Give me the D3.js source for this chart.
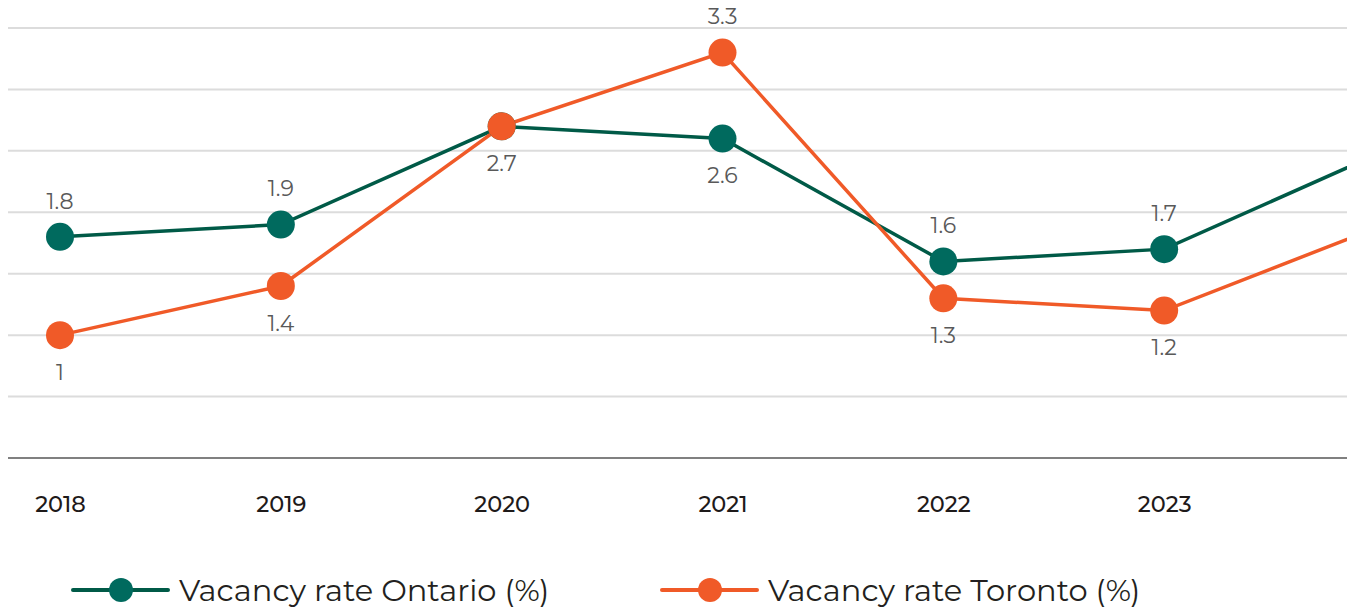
<!DOCTYPE html>
<html>
<head>
<meta charset="utf-8">
<script src="https://cdn.jsdelivr.net/npm/d3@7"></script>
<style>
  body { margin: 0; background: #fff; }
  svg { display: block; font-family: Montserrat, "Noto Sans", sans-serif; }
</style>
</head>
<body>
<svg width="1351" height="610"></svg>
<script>
// data
var years = [2018, 2019, 2020, 2021, 2022, 2023, 2024];
var ontario = [1.8, 1.9, 2.7, 2.6, 1.6, 1.7, 2.5];
var toronto = [1.0, 1.4, 2.7, 3.3, 1.3, 1.2, 1.9];
var yTicks = [0, 0.5, 1, 1.5, 2, 2.5, 3, 3.5];
var seriesNames = ["Vacancy rate Ontario (%)", "Vacancy rate Toronto (%)"];

var svg = d3.select("svg"),
  plotLeft = 8, plotRight = 1347, plotTop = 28, plotBottom = 458;

var x = d3.scaleLinear()
  .domain([2018, 2024])
  .range([60, 1385]);

var y = d3.scaleLinear()
  .domain([0, 3.5])
  .range([plotBottom, plotTop]);

var colors = ["#005a47", "#f05a28"];
var dotColors = ["#006a5e", "#f05a28"];

svg.append("defs").append("clipPath")
  .attr("id", "plot")
  .append("rect")
  .attr("x", plotLeft).attr("y", 0)
  .attr("width", plotRight - plotLeft).attr("height", plotBottom + 5);

// gridlines
svg.append("g")
  .selectAll("line")
  .data(yTicks.filter(function(d) { return d > 0; }))
  .enter().append("line")
  .attr("x1", plotLeft).attr("x2", plotRight)
  .attr("y1", function(d) { return y(d); })
  .attr("y2", function(d) { return y(d); })
  .attr("stroke", "#dcdcdc")
  .attr("stroke-width", 2);

svg.append("line")
  .attr("x1", plotLeft).attr("x2", plotRight)
  .attr("y1", y(0)).attr("y2", y(0))
  .attr("stroke", "#808080")
  .attr("stroke-width", 2);

// x axis labels
var xAxis = svg.append("g")
  .attr("transform", "translate(0," + (plotBottom + 47) + ")")
  .call(d3.axisBottom(x).tickValues(years.slice(0, 6)).tickFormat(d3.format("d")).tickSize(0));
xAxis.select(".domain").remove();
xAxis.selectAll("text")
  .attr("fill", "#1e1a1a")
  .attr("font-size", 22.5)
  .attr("font-weight", 500)
  .attr("dy", "0.32em")
  .attr("y", 0)
  .style("font-family", "Montserrat, 'Noto Sans', sans-serif");

var series = [ontario, toronto];
var line = d3.line()
  .x(function(d, i) { return x(years[i]); })
  .y(function(d) { return y(d); });

var plot = svg.append("g").attr("clip-path", "url(#plot)");

series.forEach(function(vals, s) {
  plot.append("path")
    .datum(vals)
    .attr("d", line)
    .attr("fill", "none")
    .attr("stroke", colors[s])
    .attr("stroke-width", 3.5);
});

series.forEach(function(vals, s) {
  plot.selectAll(".dot" + s)
    .data(vals)
    .enter().append("circle")
    .attr("cx", function(d, i) { return x(years[i]); })
    .attr("cy", function(d) { return y(d); })
    .attr("r", 14)
    .attr("fill", dotColors[s]);
});

// value labels: above the higher series, below the lower one,
// one label only where both series meet
series.forEach(function(vals, s) {
  var other = series[1 - s];
  var pts = vals.slice(0, 6).map(function(v, i) {
    return {year: years[i], value: v, above: v > other[i], tie: v === other[i]};
  }).filter(function(p) { return !(p.tie && s === 1); });

  svg.selectAll(".lab" + s)
    .data(pts)
    .enter().append("text")
    .attr("x", function(p) { return x(p.year); })
    .attr("y", function(p) { return y(p.value) + (p.above ? -36 : 37); })
    .attr("dy", "0.35em")
    .attr("text-anchor", "middle")
    .attr("font-size", 22)
    .attr("fill", "#595959")
    .text(function(p) { return d3.format("")(p.value); });
});

// legend
var legend = svg.append("g")
  .selectAll("g")
  .data(seriesNames)
  .enter().append("g")
  .attr("transform", function(d, i) { return "translate(" + (73 + i * 589) + ",590)"; });

legend.append("line")
  .attr("x1", 0).attr("x2", 95)
  .attr("stroke", function(d, i) { return colors[i]; })
  .attr("stroke-width", 4)
  .attr("stroke-linecap", "round");

legend.append("circle")
  .attr("cx", 48)
  .attr("r", 12)
  .attr("fill", function(d, i) { return dotColors[i]; });

legend.append("text")
  .attr("x", 106)
  .attr("dy", "0.35em")
  .attr("font-size", 30.5)
  .attr("fill", "#231f20")
  .text(function(d) { return d; });
</script>
</body>
</html>
